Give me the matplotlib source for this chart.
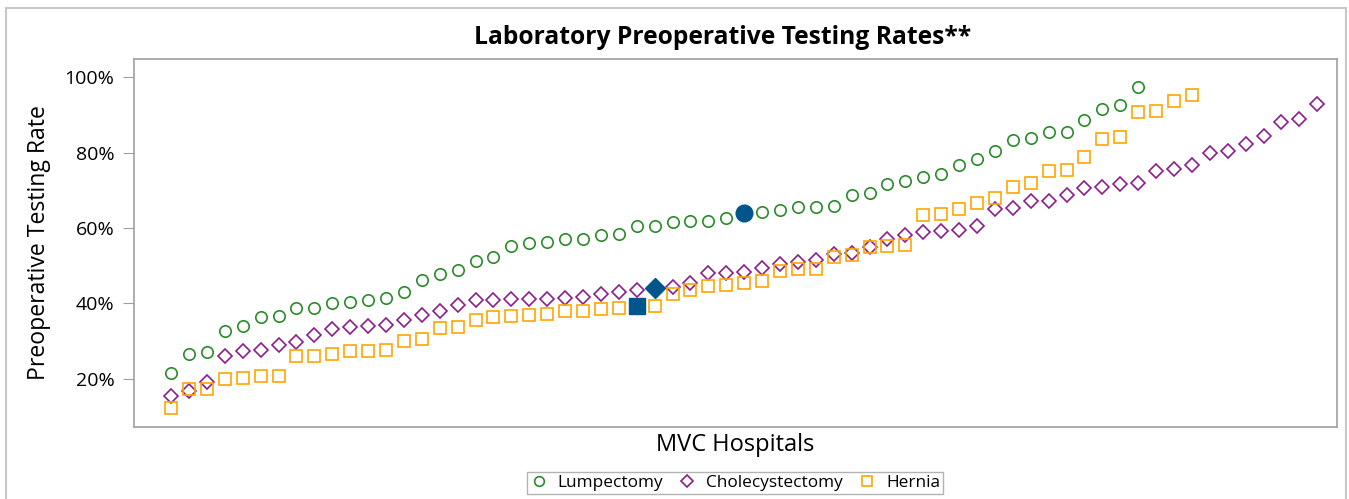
import numpy as np
import matplotlib.pyplot as plt
from matplotlib.patches import Rectangle

# testing rates (%) per hospital, each series sorted ascending
lumpectomy = [21.5, 26.5, 27.1, 32.6, 34.0, 36.3, 36.7, 38.7, 38.7, 40.0,
              40.5, 40.9, 41.5, 43.1, 46.2, 47.9, 48.9, 51.3, 52.3, 55.3,
              56.0, 56.4, 57.1, 57.1, 58.2, 58.5, 60.5, 60.5, 61.5, 61.9,
              61.9, 62.6, 63.9, 64.3, 64.9, 65.6, 65.6, 65.9, 68.7, 69.2,
              71.7, 72.4, 73.7, 74.4, 76.8, 78.4, 80.5, 83.3, 83.9, 85.6,
              85.6, 88.6, 91.7, 92.7, 97.5]
cholecystectomy = [15.3, 16.8, 19.1, 26.1, 27.4, 27.7, 28.9, 29.8, 31.7, 33.3,
                   33.8, 34.1, 34.3, 35.7, 36.9, 37.9, 39.5, 40.9, 41.0, 41.2,
                   41.3, 41.3, 41.5, 41.8, 42.6, 43.1, 43.6, 44.2, 44.5, 45.4,
                   48.0, 48.0, 48.4, 49.4, 50.5, 50.9, 51.5, 53.0, 53.4, 55.1,
                   57.2, 58.2, 58.9, 59.3, 59.6, 60.5, 65.2, 65.4, 67.3, 67.3,
                   68.8, 70.6, 70.8, 71.7, 72.1, 75.1, 75.7, 76.7, 80.0, 80.6,
                   82.4, 84.5, 88.1, 89.1, 93.0]
hernia = [12.2, 17.3, 17.4, 20.0, 20.3, 20.8, 20.8, 26.0, 26.0, 26.6,
          27.3, 27.5, 27.7, 30.0, 30.6, 33.4, 33.8, 35.7, 36.3, 36.8,
          36.9, 37.1, 37.9, 37.9, 38.5, 38.9, 39.2, 39.4, 42.5, 43.6,
          44.6, 45.0, 45.4, 46.0, 48.5, 49.1, 49.2, 52.3, 52.8, 55.0,
          55.3, 55.5, 63.6, 63.7, 65.0, 66.8, 68.1, 70.9, 72.0, 75.2,
          75.5, 78.8, 83.6, 84.2, 90.9, 91.1, 93.8, 95.4]

# position (1-based) of the highlighted hospital in each series
hl_lump = 33
hl_chole = 28
hl_hernia = 27

green = '#2a8a2a'
purple = '#8b1e8b'
orange = '#ffa500'
blue = '#00558c'

plt.rcParams['font.family'] = ['Open Sans', 'DejaVu Sans']

fig = plt.figure(figsize=(13.49, 4.99), dpi=100)
ax = fig.add_axes([134/1349, 1 - 427/499, 1203/1349, 368/499])

x1 = np.arange(1, len(lumpectomy) + 1)
x2 = np.arange(1, len(cholecystectomy) + 1)
x3 = np.arange(1, len(hernia) + 1)

ax.plot(x1, lumpectomy, 'o', ms=8.2, mfc='none', mec=green, mew=1.2,
        label='Lumpectomy', zorder=3)
ax.plot(x2, cholecystectomy, 'D', ms=7.4, mfc='none', mec=purple, mew=1.2,
        label='Cholecystectomy', zorder=3)
ax.plot(x3, hernia, 's', ms=8.2, mfc='none', mec=orange, mew=1.2,
        label='Hernia', zorder=3)

# highlighted hospital
ax.plot(hl_lump, lumpectomy[hl_lump - 1], 'o', ms=12, color=blue, zorder=4)
ax.plot(hl_chole, cholecystectomy[hl_chole - 1], 'D', ms=10.5, color=blue, zorder=4)
ax.plot(hl_hernia, hernia[hl_hernia - 1], 's', ms=12, color=blue, zorder=4)

ax.set_xlim(-1.07, 66.1)
ax.set_ylim(7.2, 104.9)
ax.set_xticks([])
ax.set_yticks([20, 40, 60, 80, 100])
ax.set_yticklabels(['20%', '40%', '60%', '80%', '100%'])
ax.tick_params(axis='y', length=8, color='#a0a0a0', labelsize=14, pad=6)
for s in ax.spines.values():
    s.set_color('#a0a0a0')
    s.set_linewidth(1.2)

ax.set_ylabel('Preoperative Testing Rate', fontsize=16.6, labelpad=10)
ax.set_xlabel('MVC Hospitals', fontsize=17, labelpad=4)

fig.text(723/1349, 1 - 37/499, 'Laboratory Preoperative Testing Rates**',
         ha='center', va='center', fontsize=17.7, fontweight='bold')

leg = fig.legend(loc='center', bbox_to_anchor=(735/1349, 1 - 483/499),
                 ncol=3, fontsize=12.4, frameon=True, fancybox=False,
                 handlelength=1.0, handletextpad=0.6, columnspacing=0.9,
                 borderpad=0.2, markerscale=0.85)
leg.get_frame().set_edgecolor('#a0a0a0')
leg.get_frame().set_linewidth(1.0)

fig.patches.append(Rectangle((6/1349, -0.1), 1340/1349, 1.1 - 8/499,
                             transform=fig.transFigure, fill=False,
                             edgecolor='#c8c8c8', linewidth=1.5))

fig.savefig('out.png', dpi=100)
